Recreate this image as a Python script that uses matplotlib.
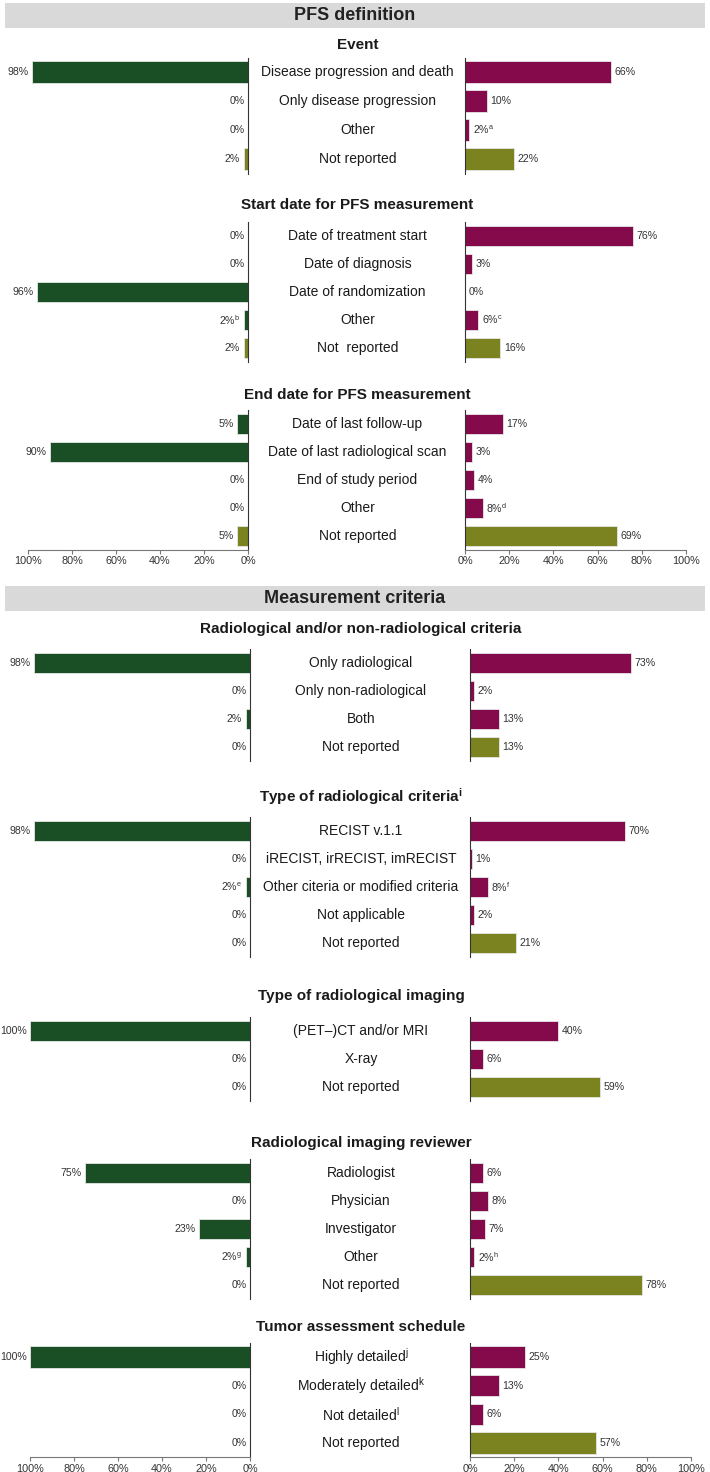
import matplotlib.pyplot as plt

plt.rcParams['font.family'] = ['Liberation Sans', 'DejaVu Sans']
plt.rcParams['mathtext.default'] = 'regular'

# ---- data ----
event_cats = ['Disease progression and death', 'Only disease progression', 'Other', 'Not reported']
event_left = [98, 0, 0, 2]
event_right = [66, 10, 2, 22]
event_lnotes = ['', '', '', '']
event_rnotes = ['', '', 'a', '']

start_cats = ['Date of treatment start', 'Date of diagnosis', 'Date of randomization', 'Other', 'Not  reported']
start_left = [0, 0, 96, 2, 2]
start_right = [76, 3, 0, 6, 16]
start_lnotes = ['', '', '', 'b', '']
start_rnotes = ['', '', '', 'c', '']

end_cats = ['Date of last follow-up', 'Date of last radiological scan', 'End of study period', 'Other', 'Not reported']
end_left = [5, 90, 0, 0, 5]
end_right = [17, 3, 4, 8, 69]
end_lnotes = ['', '', '', '', '']
end_rnotes = ['', '', '', 'd', '']

radnon_cats = ['Only radiological', 'Only non-radiological', 'Both', 'Not reported']
radnon_left = [98, 0, 2, 0]
radnon_right = [73, 2, 13, 13]
radnon_lnotes = ['', '', '', '']
radnon_rnotes = ['', '', '', '']

crit_cats = ['RECIST v.1.1', 'iRECIST, irRECIST, imRECIST', 'Other citeria or modified criteria',
             'Not applicable', 'Not reported']
crit_left = [98, 0, 2, 0, 0]
crit_right = [70, 1, 8, 2, 21]
crit_lnotes = ['', '', 'e', '', '']
crit_rnotes = ['', '', 'f', '', '']

imaging_cats = ['(PET\u2013)CT and/or MRI', 'X-ray', 'Not reported']
imaging_left = [100, 0, 0]
imaging_right = [40, 6, 59]
imaging_lnotes = ['', '', '']
imaging_rnotes = ['', '', '']

review_cats = ['Radiologist', 'Physician', 'Investigator', 'Other', 'Not reported']
review_left = [75, 0, 23, 2, 0]
review_right = [6, 8, 7, 2, 78]
review_lnotes = ['', '', '', 'g', '']
review_rnotes = ['', '', '', 'h', '']

tumor_cats = ['Highly detailed$^{j}$', 'Moderately detailed$^{k}$', 'Not detailed$^{l}$', 'Not reported']
tumor_left = [100, 0, 0, 0]
tumor_right = [25, 13, 6, 57]
tumor_lnotes = ['', '', '', '']
tumor_rnotes = ['', '', '', '']

headers = ['PFS definition', 'Measurement criteria']
titles = ['Event', 'Start date for PFS measurement', 'End date for PFS measurement',
          'Radiological and/or non-radiological criteria', 'Type of radiological criteria$^{i}$',
          'Type of radiological imaging', 'Radiological imaging reviewer', 'Tumor assessment schedule']
sections = [
    (event_cats, event_left, event_right, event_lnotes, event_rnotes),
    (start_cats, start_left, start_right, start_lnotes, start_rnotes),
    (end_cats, end_left, end_right, end_lnotes, end_rnotes),
    (radnon_cats, radnon_left, radnon_right, radnon_lnotes, radnon_rnotes),
    (crit_cats, crit_left, crit_right, crit_lnotes, crit_rnotes),
    (imaging_cats, imaging_left, imaging_right, imaging_lnotes, imaging_rnotes),
    (review_cats, review_left, review_right, review_lnotes, review_rnotes),
    (tumor_cats, tumor_left, tumor_right, tumor_lnotes, tumor_rnotes),
]

# ---- layout (pixels) ----
W, H = 710, 1472
GREEN = '#1a4f26'
PURPLE = '#840a4b'
OLIVE = '#7b8220'
# left axis x (100%, 0%), right axis x (0%, 100%)
groups = [(28, 248, 465, 686), (30, 250, 470, 691)]
header_y = [(3, 28), (586, 611)]
# title y, first row y, row step, show x axis, group
layout = [
    (45, 72, 29, False, 0),
    (205, 236, 28, False, 0),
    (395, 424, 28, True, 0),
    (629, 663, 28, False, 1),
    (797, 831, 28, False, 1),
    (996, 1031, 28, False, 1),
    (1143, 1173, 28, False, 1),
    (1327, 1357, 28.7, True, 1),
]

fig = plt.figure(figsize=(W / 100, H / 100), dpi=100)


def px_axes(x0, x1, y0, y1):
    return fig.add_axes([x0 / W, 1 - y1 / H, (x1 - x0) / W, (y1 - y0) / H])


for (y0, y1), txt in zip(header_y, headers):
    bg = px_axes(5, 705, y0, y1)
    bg.set_facecolor('#d9d9d9')
    bg.set_xticks([])
    bg.set_yticks([])
    for s in bg.spines.values():
        s.set_visible(False)
    bg.text(0.5, 0.5, txt, transform=bg.transAxes, ha='center', va='center',
            fontsize=13, fontweight='bold', color='#222222')

ticks = [0, 20, 40, 60, 80, 100]

for title, (cats, left, right, lnotes, rnotes), (ty, y0, step, show_axis, g) in zip(titles, sections, layout):
    n = len(cats)
    top = y0 - step / 2
    bot = y0 + step * (n - 1) + step / 2
    lx0, lx1, rx0, rx1 = groups[g]
    cx = (lx1 + rx0) / 2 + 1

    axl = px_axes(lx0, lx1, top, bot)
    axr = px_axes(rx0, rx1, top, bot)
    ypos = list(range(n))
    lcols = [GREEN] * (n - 1) + [OLIVE]
    rcols = [PURPLE] * (n - 1) + [OLIVE]
    axl.barh(ypos, left, height=0.74, color=lcols, edgecolor='#e6e6e6', linewidth=0.6)
    axr.barh(ypos, right, height=0.74, color=rcols, edgecolor='#e6e6e6', linewidth=0.6)
    axl.set_xlim(100, 0)
    axr.set_xlim(0, 100)
    for ax in (axl, axr):
        ax.set_ylim(n - 0.5, -0.5)
        ax.set_yticks([])
        ax.patch.set_visible(False)
        ax.spines['top'].set_visible(False)
        ax.spines['bottom'].set_visible(show_axis)
        ax.spines['bottom'].set_color('#777777')
        if show_axis:
            ax.set_xticks(ticks)
            ax.set_xticklabels([f'{t}%' for t in ticks], fontsize=7.8, color='#333333')
            ax.tick_params(axis='x', length=3, width=0.8, color='#777777', pad=1.5)
        else:
            ax.set_xticks([])
    axl.spines['left'].set_visible(False)
    axl.spines['right'].set_color('#333333')
    axl.spines['right'].set_linewidth(0.8)
    axr.spines['right'].set_visible(False)
    axr.spines['left'].set_color('#333333')
    axr.spines['left'].set_linewidth(0.8)

    for i in range(n):
        lt = f'{left[i]}%' + (f'$^{{{lnotes[i]}}}$' if lnotes[i] else '')
        rt = f'{right[i]}%' + (f'$^{{{rnotes[i]}}}$' if rnotes[i] else '')
        axl.annotate(lt, (left[i], i), xytext=(-2.5, 0), textcoords='offset points',
                     ha='right', va='center', fontsize=7.6, color='#333333')
        axr.annotate(rt, (right[i], i), xytext=(2.5, 0), textcoords='offset points',
                     ha='left', va='center', fontsize=7.6, color='#333333')
        fig.text(cx / W, 1 - (y0 + i * step) / H, cats[i], ha='center', va='center',
                 fontsize=10, color='#1a1a1a')

    fig.text(cx / W, 1 - ty / H, title, ha='center', va='center',
             fontsize=11, fontweight='bold', color='#1a1a1a')

fig.savefig('out.png', dpi=100)
